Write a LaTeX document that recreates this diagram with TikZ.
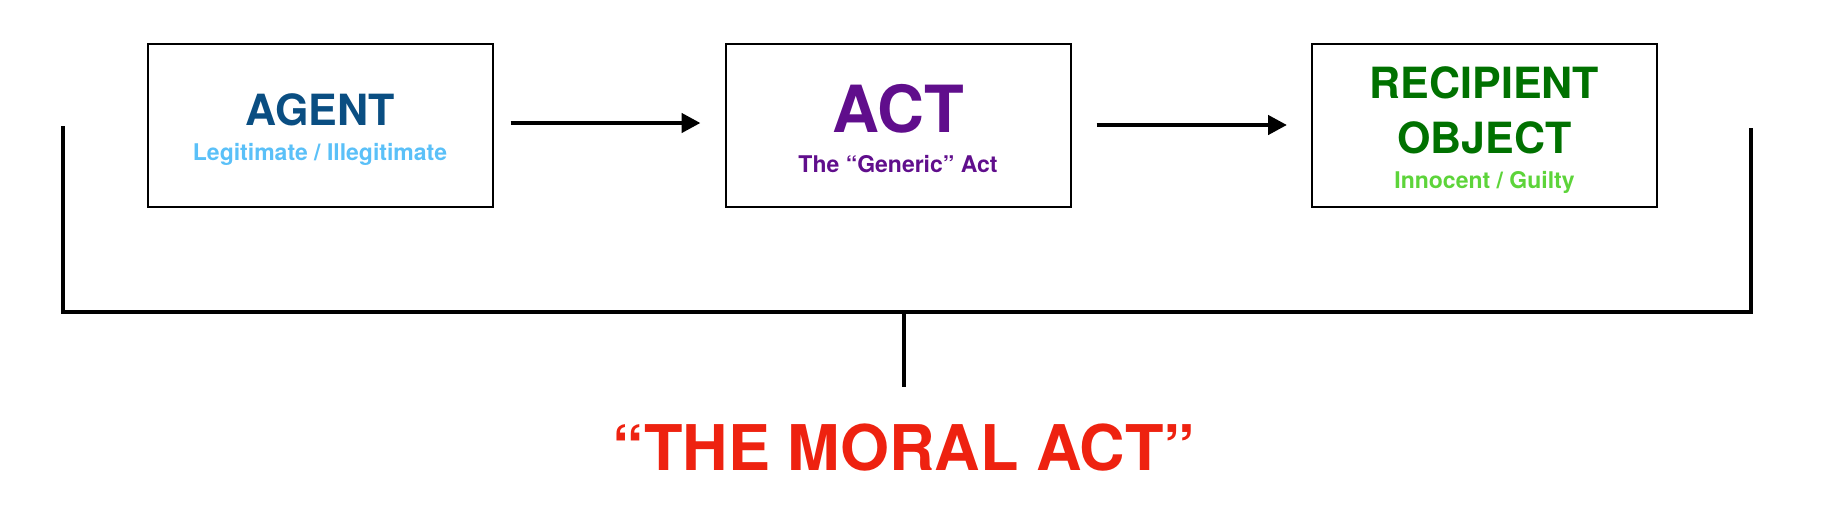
\documentclass[tikz,border=0pt]{standalone}
\usepackage{fontspec}
\setmainfont{TeX Gyre Heros}
\usetikzlibrary{arrows.meta,calc}
\definecolor{agentblue}{RGB}{10,78,130}
\definecolor{lightblue}{RGB}{90,192,248}
\definecolor{actpurple}{RGB}{96,14,140}
\definecolor{darkgreen}{RGB}{0,113,0}
\definecolor{lightgreen}{RGB}{93,212,58}
\definecolor{moralred}{RGB}{238,34,16}
\tikzset{
  box/.style={draw=black, line width=2pt, minimum width=345pt, minimum height=163pt, inner sep=0pt},
  bigtxt/.style={anchor=base, inner sep=0pt, font=\fontsize{43}{43}\selectfont\bfseries},
  smalltxt/.style={anchor=base, inner sep=0pt, font=\fontsize{23}{23}\selectfont\bfseries},
  flow/.style={line width=4.5pt, -{Triangle[length=19pt,width=19pt]}},
  brack/.style={line width=4pt, line join=miter},
}
\begin{document}
\begin{tikzpicture}[x=1pt,y=-1pt]
\useasboundingbox (0,0) rectangle (1822,528);
\node[box] (b1) at (320,125) {};
\node[box] (b2) at (898,125) {};
\node[box] (b3) at (1484.5,125) {};
\node[bigtxt, text=agentblue] (agent) at (320,125) {AGENT};
\node[smalltxt, text=lightblue] (agentsub) at (320,160) {Legitimate / Illegitimate};
\node[bigtxt, text=actpurple, font=\fontsize{65}{65}\selectfont\bfseries] (act) at (898,132.7) {ACT};
\node[smalltxt, text=actpurple] (actsub) at (898,172.7) {The “Generic” Act};
\node[bigtxt, text=darkgreen] (recip) at (1484.5,98.3) {RECIPIENT};
\node[bigtxt, text=darkgreen] (obj) at (1484.5,153.3) {OBJECT};
\node[smalltxt, text=lightgreen] (objsub) at (1484.5,188) {Innocent / Guilty};
\draw[flow] ($(b1.east)+(17,-2)$) coordinate (a1s) -- ($(b2.west)+(-24,-2)$) coordinate (a1e);
\draw[flow] ($(b2.east)+(25,0)$) coordinate (a2s) -- ($(b3.west)+(-24,0)$) coordinate (a2e);
\coordinate (lt) at (63,126);
\coordinate (lb) at (63,312);
\coordinate (rb) at (1751,312);
\coordinate (rt) at (1751,128);
\coordinate (st) at (904,312);
\coordinate (sb) at (904,387);
\draw[brack] (lt) -- (lb) -- (rb) -- (rt);
\draw[brack] (st) -- (sb);
\node[anchor=base, inner sep=0pt, text=moralred, font=\fontsize{63}{63}\selectfont\bfseries] (moral) at (904,470) {“THE MORAL ACT”};
\end{tikzpicture}
\end{document}
